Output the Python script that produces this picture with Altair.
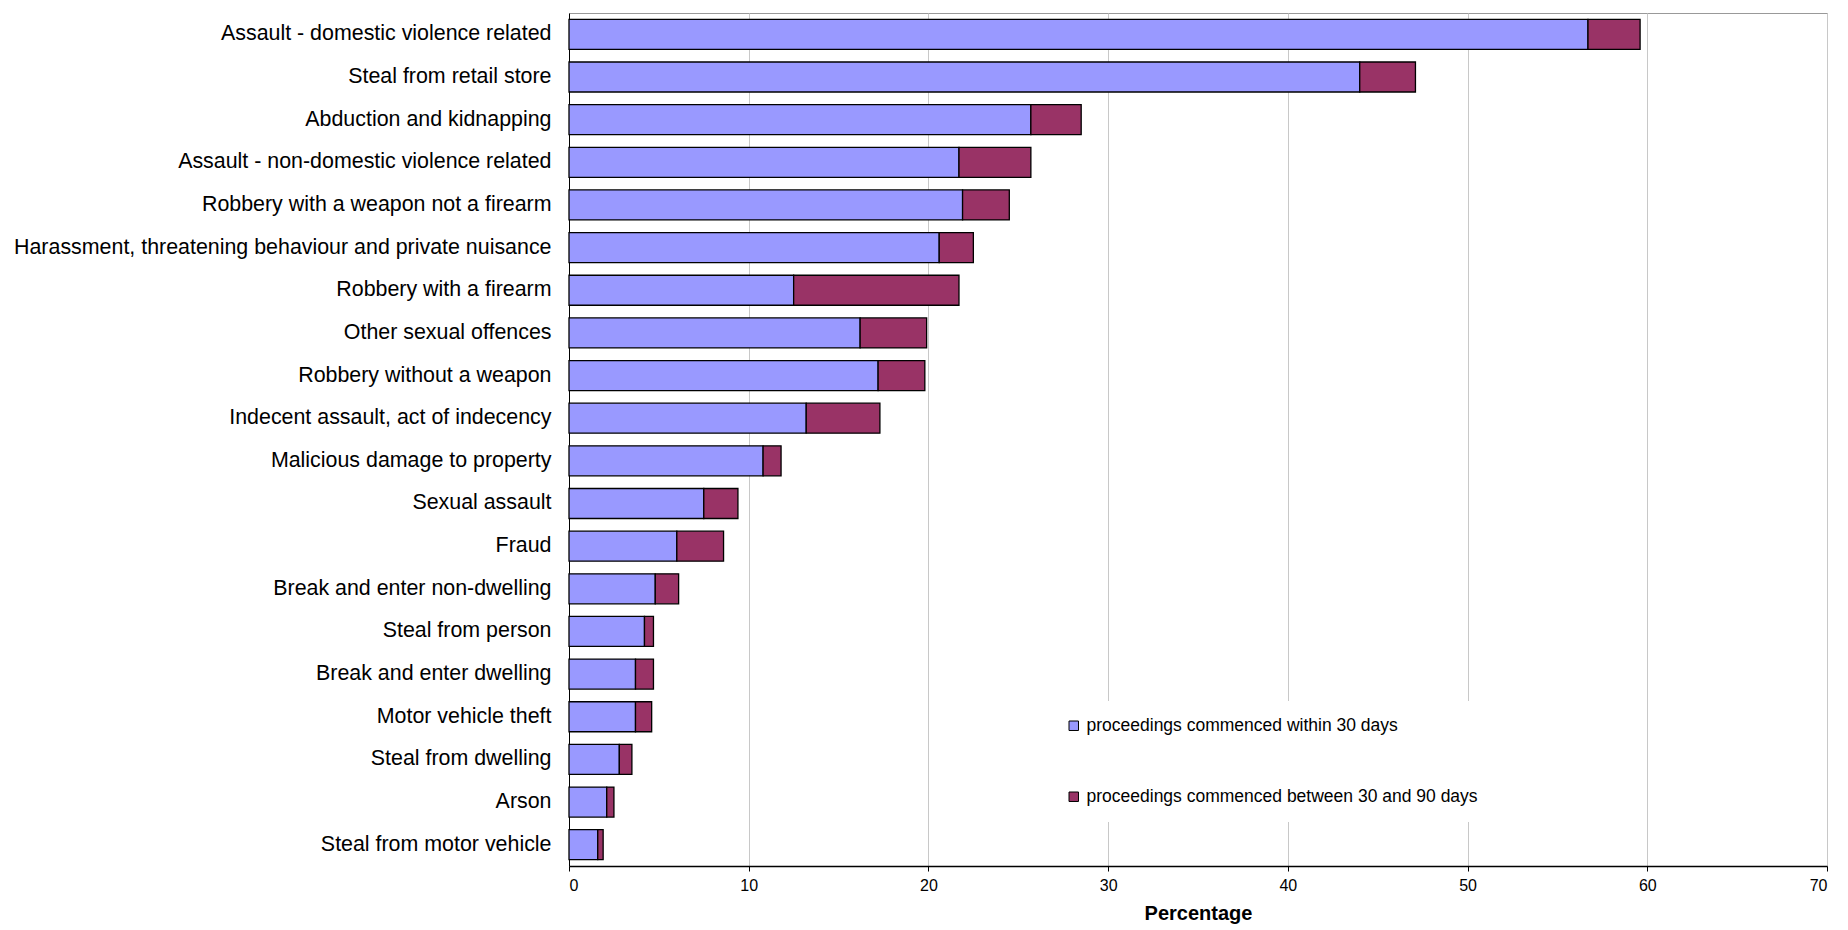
import pandas as pd
import altair as alt

offences = [
    "Assault - domestic violence related", "Steal from retail store",
    "Abduction and kidnapping", "Assault - non-domestic violence related",
    "Robbery with a weapon not a firearm",
    "Harassment, threatening behaviour and private nuisance",
    "Robbery with a firearm", "Other sexual offences", "Robbery without a weapon",
    "Indecent assault, act of indecency", "Malicious damage to property",
    "Sexual assault", "Fraud", "Break and enter non-dwelling", "Steal from person",
    "Break and enter dwelling", "Motor vehicle theft", "Steal from dwelling",
    "Arson", "Steal from motor vehicle",
]
within_30 = [56.7, 44.0, 25.7, 21.7, 21.9, 20.6, 12.5, 16.2, 17.2, 13.2,
             10.8, 7.5, 6.0, 4.8, 4.2, 3.7, 3.7, 2.8, 2.1, 1.6]
total_90 = [59.6, 47.1, 28.5, 25.7, 24.5, 22.5, 21.7, 19.9, 19.8, 17.3,
            11.8, 9.4, 8.6, 6.1, 4.7, 4.7, 4.6, 3.5, 2.5, 1.9]

series = ["proceedings commenced within 30 days",
          "proceedings commenced between 30 and 90 days"]

rows = []
for name, a, t in zip(offences, within_30, total_90):
    rows.append({"offence": name, "series": series[0], "start": 0, "end": a})
    rows.append({"offence": name, "series": series[1], "start": a, "end": t})
df = pd.DataFrame(rows)

font = "Liberation Sans"

bars = alt.Chart(df).mark_bar(stroke="black", strokeWidth=1.3, size=30).encode(
    y=alt.Y("offence:N", sort=offences, title=None,
            axis=alt.Axis(labelFontSize=21.4, labelColor="black", labelPadding=18,
                          domainColor="black", ticks=False, labelLimit=700)),
    x=alt.X("start:Q", title="Percentage",
            scale=alt.Scale(domain=[0, 70], nice=False),
            axis=alt.Axis(values=list(range(0, 71, 10)), labelFontSize=16,
                          labelColor="black", titleFontSize=20, titleColor="black",
                          domainColor="black", domainWidth=1.5, tickColor="black",
                          gridColor="#c8c8c8", titlePadding=10, labelPadding=6)),
    x2="end:Q",
    color=alt.Color("series:N", sort=series,
                    scale=alt.Scale(domain=series, range=["#9999ff", "#993366"]),
                    legend=alt.Legend(title=None, orient="none", legendX=480, legendY=688,
                                      symbolType="square", symbolSize=90,
                                      symbolStrokeColor="black", symbolStrokeWidth=1,
                                      labelFontSize=17.5, labelColor="black",
                                      rowPadding=52, fillColor="white", padding=16,
                                      labelLimit=600)),
)

chart = bars.properties(width=1258, height=853).configure(font=font).configure_view(
    stroke="#999999"
).configure_axisY(grid=False)

chart.save("out.html", embed_options={"renderer": "svg", "actions": False})
